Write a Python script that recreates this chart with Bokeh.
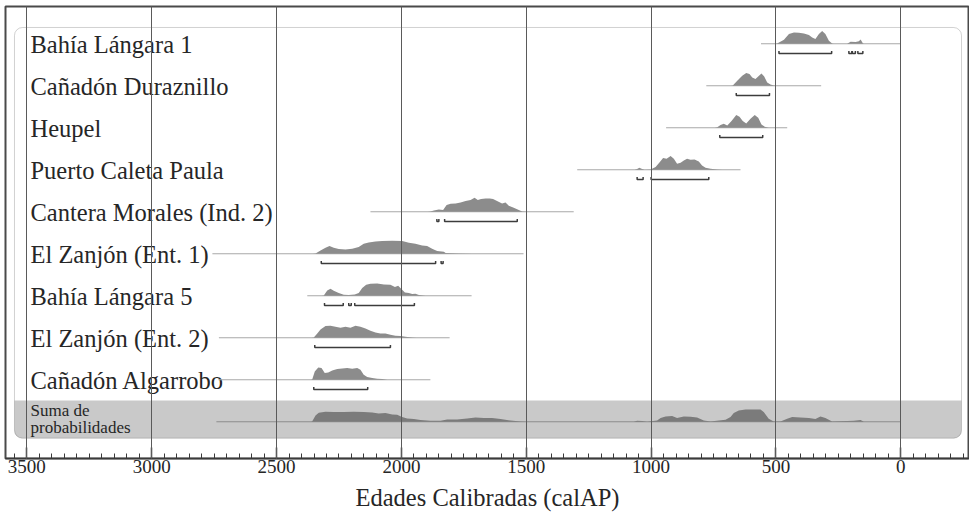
from bokeh.plotting import figure
from bokeh.models import Range1d, FixedTicker, BoxAnnotation
from bokeh.core.properties import value
from bokeh.embed import file_html
from bokeh.resources import INLINE

# ---------------- data (calibrated years BP, relative probability) ----------------
site_names = ["Bahía Lángara 1", "Cañadón Duraznillo", "Heupel", "Puerto Caleta Paula",
              "Cantera Morales (Ind. 2)", "El Zanjón (Ent. 1)", "Bahía Lángara 5",
              "El Zanjón (Ent. 2)", "Cañadón Algarrobo"]
sum_label = ["Suma de", "probabilidades"]

bl1_years = [500, 495, 488, 468, 448, 428, 408, 388, 368, 355, 342, 328, 315, 302, 288, 275, 268,
             215, 201, 181, 168, 161, 152, 148]
bl1_prob = [0, 0.3, 1.3, 4, 9.7, 11.3, 11, 10.3, 8.7, 6.3, 4.7, 9.7, 12.7, 9.7, 3, 0.3, 0,
            0, 2, 1.7, 2.5, 4.3, 0.5, 0]
bl1_range = (560, 0)
bl1_hpd = [(488, 277), (208, 196), (194, 182), (172, 152)]

cd_years = [680, 673, 655, 635, 619, 606, 595, 582, 568, 558, 547, 535, 522, 509, 500]
cd_prob = [0, 0.3, 5, 10, 12.7, 11.7, 8.3, 6.7, 10, 12.3, 9.3, 3.3, 1.3, 0.3, 0]
cd_range = (779, 319)
cd_hpd = [(659, 526)]

he_years = [745, 735, 722, 709, 695, 678, 659, 646, 633, 619, 602, 585, 571, 558, 545, 529]
he_prob = [0, 0.5, 2.7, 4, 2.3, 6.7, 12.7, 11, 6.7, 4.3, 9, 12.7, 10, 3.3, 1, 0]
he_range = (940, 455)
he_hpd = [(725, 553)]

pcp_years = [1066, 1056, 1047, 1036, 1026, 1002, 982, 965, 952, 938, 922, 909, 896, 882, 869,
             856, 842, 826, 809, 796, 782, 762, 735, 715]
pcp_prob = [0, 0.7, 2, 0.7, 0, 0.3, 2.7, 7.7, 11.7, 11, 13.7, 11, 6, 7, 9.3, 11, 10, 10.3, 8.3,
            4.3, 2, 1, 0.3, 0]
pcp_range = (1296, 642)
pcp_hpd = [(1056, 1032), (1000, 769)]

cm_years = [1895, 1884, 1870, 1850, 1833, 1819, 1803, 1783, 1763, 1743, 1723, 1707, 1694, 1681,
            1663, 1646, 1633, 1617, 1597, 1583, 1570, 1550, 1530, 1516, 1500]
cm_prob = [0, 0.3, 1.3, 2.3, 1.7, 6.7, 8, 8.3, 9.3, 10.7, 11.7, 14, 11.7, 12.7, 13.3, 13.3, 12.7,
           10.7, 8.3, 9.3, 6, 4, 1.7, 0.3, 0]
cm_range = (2124, 1310)
cm_hpd = [(1858, 1850), (1827, 1536)]

ez1_years = [2355, 2344, 2324, 2304, 2288, 2271, 2251, 2224, 2197, 2171, 2151, 2131, 2104, 2077,
             2037, 1997, 1970, 1944, 1917, 1897, 1877, 1857, 1830, 1823, 1770, 1717]
ez1_prob = [0, 0.3, 3.3, 6, 7.7, 6, 4.7, 4.3, 5, 6.7, 10, 11.3, 12.3, 12.7, 13, 12.7, 11, 10, 8.3,
            7.7, 5, 2.7, 2, 0.7, 0.3, 0]
ez1_range = (2757, 1511)
ez1_hpd = [(2321, 1863), (1841, 1833)]

bl5_years = [2320, 2311, 2297, 2284, 2271, 2251, 2231, 2211, 2187, 2171, 2157, 2141, 2124, 2097,
             2070, 2044, 2026, 2013, 2000, 1986, 1970, 1957, 1944, 1930, 1904]
bl5_prob = [0, 0.3, 5.3, 7, 5, 2.7, 1, 0.7, 1.3, 2.7, 7.7, 11, 12, 12.3, 11.3, 11, 8.7, 10, 6.7,
            3.3, 2.7, 1.7, 2, 0.7, 0]
bl5_range = (2377, 1719)
bl5_hpd = [(2308, 2233), (2211, 2201), (2187, 1948)]

ez2_years = [2360, 2351, 2337, 2324, 2304, 2284, 2264, 2244, 2224, 2204, 2184, 2164, 2144, 2124,
             2104, 2084, 2064, 2044, 2024, 2004, 1984, 1957, 1940]
ez2_prob = [0, 0.3, 4.3, 8.3, 11.7, 12, 11, 10, 11, 10, 12, 11, 9.3, 7, 5.3, 4.3, 4.3, 3, 2, 1.7,
            1, 0.3, 0]
ez2_range = (2731, 1807)
ez2_hpd = [(2347, 2044)]

ca_years = [2362, 2357, 2347, 2333, 2320, 2307, 2293, 2277, 2257, 2237, 2217, 2197, 2177, 2164,
            2151, 2137, 2117, 2097, 2077, 2057]
ca_prob = [0, 0.5, 8.3, 12.3, 11.7, 6.7, 7.3, 9.3, 10.7, 11.3, 11.7, 11, 11.7, 10, 5, 2.7, 1.7,
           1, 0.7, 0]
ca_range = (2733, 1884)
ca_hpd = [(2351, 2135)]

sum_years = [2362, 2357, 2344, 2331, 2304, 2271, 2231, 2191, 2151, 2117, 2091, 2064, 2037, 2017,
             1997, 1977, 1950, 1924, 1884, 1843, 1817, 1777, 1737, 1703, 1670, 1637, 1603, 1563,
             1523, 1503, 1070, 1056, 1036, 1016, 976, 962, 942, 916, 896, 869, 842, 816, 789,
             762, 729, 702, 682, 669, 649, 622, 589, 562, 549, 529, 509, 482, 455, 435, 402,
             368, 342, 322, 302, 275, 215, 188, 161, 148]
sum_prob = [0, 0.5, 6.3, 9, 10, 9.7, 9.7, 10, 9.7, 9.3, 8.3, 8.7, 7.3, 7, 4.7, 3.3, 2.7, 1.7, 1,
            1, 2.3, 2.3, 3.3, 4.3, 3.7, 3.7, 2.7, 1.3, 0.3, 0, 0, 1, 0.7, 0, 1.3, 3.7, 5.3, 5.7,
            3.7, 5.3, 5, 4.3, 1.3, 0.3, 1.3, 2, 4.7, 8.7, 11.3, 12.3, 12.3, 12.3, 9.7, 3, 0.3,
            0.3, 3, 4.7, 4.3, 3.7, 2.7, 5.3, 3.7, 0.3, 0.7, 1, 1.7, 0]
sum_range = (2741, 0)

major_ticks = [3500, 3000, 2500, 2000, 1500, 1000, 500, 0]
minor_ticks = list(range(3550, -251, -50))
x_title = "Edades Calibradas (calAP)"

# ---------------- figure ----------------
SERIF = "Liberation Serif"
TXT = "#262626"

p = figure(frame_width=964, frame_height=452,
           x_range=Range1d(3585.6, -275.1), y_range=Range1d(9.874, -0.888),
           output_backend="svg", toolbar_location=None, min_border=0,
           min_border_left=5, min_border_top=6,
           background_fill_color="white", border_fill_color="white")
p.yaxis.visible = False
p.ygrid.visible = False
p.outline_line_color = "#4a4a4a"
p.outline_line_width = 2

p.xaxis.ticker = FixedTicker(ticks=major_ticks, minor_ticks=minor_ticks)
p.xgrid.ticker = FixedTicker(ticks=major_ticks)
p.xgrid.grid_line_color = "#5a5a5a"
p.xgrid.grid_line_width = 1
p.xgrid.level = "overlay"

ax = p.xaxis[0]
ax.axis_line_color = "#3a3a3a"
ax.axis_line_width = 1.5
ax.major_tick_in = 11
ax.major_tick_out = 0
ax.minor_tick_in = 5
ax.minor_tick_out = 0
ax.major_tick_line_color = "#3a3a3a"
ax.minor_tick_line_color = "#3a3a3a"
ax.major_tick_line_width = 1.5
ax.major_label_text_font = SERIF
ax.major_label_text_font_size = "19px"
ax.major_label_text_color = TXT
ax.major_label_standoff = 1
ax.axis_label = x_title
ax.axis_label_text_font = SERIF
ax.axis_label_text_font_size = "24.5px"
ax.axis_label_text_font_style = "normal"
ax.axis_label_text_color = TXT
ax.axis_label_standoff = 8

# summed-probability band and rounded panel
band = BoxAnnotation(left=3549.6, right=-243.1, top=8.493, bottom=9.390,
                     fill_color="#c9c9c9", fill_alpha=1, line_color=None, level="underlay",
                     border_radius=dict(top_left=0, top_right=0, bottom_right=7, bottom_left=7))
p.add_layout(band)
panel = BoxAnnotation(left=3549.6, right=-243.1, top=-0.388, bottom=9.390,
                      fill_alpha=0, line_color="#6a6a6a", line_width=1, level="overlay",
                      border_radius=8)
p.add_layout(panel)

years_list = [bl1_years, cd_years, he_years, pcp_years, cm_years, ez1_years, bl5_years,
              ez2_years, ca_years]
prob_list = [bl1_prob, cd_prob, he_prob, pcp_prob, cm_prob, ez1_prob, bl5_prob, ez2_prob, ca_prob]
range_list = [bl1_range, cd_range, he_range, pcp_range, cm_range, ez1_range, bl5_range,
              ez2_range, ca_range]
hpd_list = [bl1_hpd, cd_hpd, he_hpd, pcp_hpd, cm_hpd, ez1_hpd, bl5_hpd, ez2_hpd, ca_hpd]

H = 1.0 / 42.0   # row units per probability unit

# labels
rows = list(range(len(site_names)))
p.text(x=[3485.5] * len(rows), y=[r + 0.005 for r in rows], text=site_names,
       text_font=value(SERIF), text_font_size="24.5px", text_color=TXT,
       text_baseline="alphabetic", text_align="left")
p.text(x=[3485.5, 3485.5], y=[8.73, 9.13], text=sum_label,
       text_font=value(SERIF), text_font_size="17px", text_color=TXT,
       text_baseline="alphabetic", text_align="left")

# range lines
p.segment(x0=[r[0] for r in range_list], x1=[r[1] for r in range_list], y0=rows, y1=rows,
          line_color="#a8a8a8", line_width=1.1)
p.segment(x0=[sum_range[0]], x1=[sum_range[1]], y0=[9], y1=[9],
          line_color="#8c8c8c", line_width=1.1)

# distributions
for r, ys, ps in zip(rows, years_list, prob_list):
    p.varea(x=ys, y1=[r] * len(ys), y2=[r - v * H for v in ps], fill_color="#8c8c8c")
p.varea(x=sum_years, y1=[9] * len(sum_years), y2=[9 - v * H for v in sum_prob],
        fill_color="#7b7b7b")

# HPD brackets
bx, by = [], []
up = 0.06
for r, hp in zip(rows, hpd_list):
    yb = r + 0.23
    for a, b in hp:
        bx.append([a, a, b, b])
        by.append([yb - up, yb, yb, yb - up])
p.multi_line(xs=bx, ys=by, line_color="#3c3c3c", line_width=1.5)

open("out.html", "w").write(file_html(p, INLINE))
